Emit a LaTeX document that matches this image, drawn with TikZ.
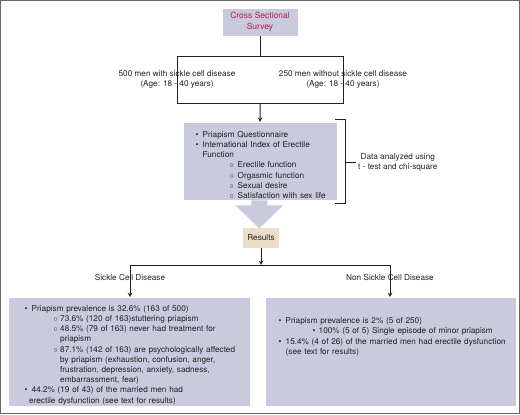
\documentclass[tikz,border=0pt]{standalone}
\usepackage{fontspec}
\setmainfont{TeX Gyre Heros}
\usepackage{tikz}
\usetikzlibrary{arrows}
\definecolor{panelblue}{RGB}{201,202,222}
\definecolor{resultstan}{RGB}{235,222,201}
\definecolor{titlered}{RGB}{186,28,72}
\definecolor{inkgray}{RGB}{35,31,32}
\newcommand{\diagfont}{\fontsize{8.2bp}{10.2bp}\selectfont}
% list items: bullet, then circle sub-items
\newcommand{\bul}[2][7bp]{\par\leftskip=0pt\hangindent=#1\hangafter=1\noindent\makebox[7bp][l]{\textbullet}#2}
\newcommand{\subbul}[4][$\circ$]{\par\leftskip=#2\hangindent=#3\hangafter=1\noindent\makebox[#3][l]{#1}#4}
\tikzstyle{panel} = [rectangle, draw=white, line width=0.6bp, fill=panelblue, inner sep=0pt]
\tikzstyle{listtext} = [anchor=north west, inner sep=0pt, text width=250bp, align=left, font=\diagfont, text=inkgray]
\tikzstyle{lbl} = [align=center, inner sep=0pt, font=\diagfont, text=inkgray]
\tikzstyle{wire} = [line width=1bp, draw=inkgray]
\tikzstyle{arrow} = [line width=1bp, draw=inkgray, ->, >=stealth]

\begin{document}
\begin{tikzpicture}[x=1bp, y=-1bp]
\useasboundingbox (0,0) rectangle (520,414);
\draw[black!60, line width=1bp] (0.5,0.5) rectangle (519.5,413.5);

% study design
\node[panel, minimum width=76bp, minimum height=28bp, align=center, text=titlered,
    font=\fontsize{8.5bp}{11bp}\selectfont] (survey) at (260,22) {Cross Sectional\\Survey};
\coordinate (splitTop) at (260,56);
\coordinate (splitTL) at (177,56);
\coordinate (splitTR) at (343,56);
\coordinate (splitBL) at (177,103);
\coordinate (splitBR) at (343,103);
\coordinate (splitBot) at (260,103);
\node[lbl] (scdGroup) at (177,79.5) {500 men with sickle cell disease\\(Age: 18 - 40 years)};
\node[lbl] (ctrlGroup) at (343,79.5) {250 men without sickle cell disease\\(Age: 18 - 40 years)};
\draw[wire] (survey) -- (splitTop);
\draw[wire] (splitTL) -- (splitTR) -- (splitBR) -- (splitBL) -- cycle;

% questionnaires
\node[panel, anchor=north west, minimum width=154bp, minimum height=78bp] (measures) at (183,122) {};
\draw[arrow] (splitBot) -- (measures);
\node[listtext] (measuresText) at (195.5,126.8) {\bul{Priapism Questionnaire}%
    \bul{International Index of Erectile\newline Function}%
    \subbul{34bp}{8bp}{Erectile function}%
    \subbul{34bp}{8bp}{Orgasmic function}%
    \subbul{34bp}{8bp}{Sexual desire}%
    \subbul{34bp}{8bp}{Satisfaction with sex life}\par};

% bracket
\coordinate (tickTop) at (335,119);
\coordinate (bracketTop) at (345,119);
\coordinate (bracketBot) at (345,203);
\coordinate (tickBot) at (335,203);
\coordinate (bracketMid) at (345,162);
\draw[wire] (tickTop) -- (bracketTop) -- (bracketBot) -- (tickBot);
\node[lbl, anchor=west, inner xsep=2bp] (analysis) at (356,162) {Data analyzed using\\t - test and chi-square};
\draw[wire] (bracketMid) -- (analysis);

% results
\fill[panelblue] ([xshift=-9bp,yshift=0.3bp]measures.south) -- ++(16,0) -- ++(0,5) -- ++(16,0)
    -- ++(-24,23) -- ++(-24,-23) -- ++(16,0) -- cycle;
\node[rectangle, fill=resultstan, minimum width=36bp, minimum height=20bp, font=\diagfont,
    text=inkgray] (results) at (261,238) {Results};
\coordinate (branchMid) at (261,265);
\coordinate (branchL) at (130,265);
\coordinate (branchR) at (390,265);
\draw[arrow] (results) -- (branchMid);
\draw[wire] (branchL) -- (branchR);
\node[panel, anchor=north west, minimum width=242bp, minimum height=109bp] (scdPanel) at (8,297) {};
\node[panel, anchor=north west, minimum width=251bp, minimum height=109bp] (ctrlPanel) at (265,297) {};
\draw[arrow] (branchL) -- (scdPanel.north -| branchL);
\draw[arrow] (branchR) -- (ctrlPanel.north -| branchR);
\node[lbl] (scdLabel) at (130,277.5) {Sickle Cell Disease};
\node[lbl] (ctrlLabel) at (390,277.5) {Non Sickle Cell Disease};

\node[listtext] (scdText) at (24.5,300.9) {\bul{Priapism prevalence is 32.6\% (163 of 500)}%
    \subbul{29bp}{6.5bp}{73.6\% (120 of 163)stuttering priapism}%
    \subbul{29bp}{6.5bp}{48.5\% (79 of 163) never had treatment for\newline priapism}%
    \subbul{29bp}{6.5bp}{87.1\% (142 of 163) are psychologically affected\newline by priapism (exhaustion, confusion, anger,\newline frustration, depression, anxiety, sadness,\newline embarrassment, fear)}%
    \bul[4.5bp]{44.2\% (19 of 43) of the married men had\newline erectile dysfunction (see text for results)}\par};
\node[listtext] (ctrlText) at (278.5,313.3) {\bul{Priapism prevalence is 2\% (5 of 250)}%
    \subbul[\textbullet]{34bp}{6bp}{100\% (5 of 5) Single episode of minor priapism}%
    \bul{15.4\% (4 of 26) of the married men had erectile dysfunction\newline (see text for results)}\par};
\end{tikzpicture}
\end{document}
